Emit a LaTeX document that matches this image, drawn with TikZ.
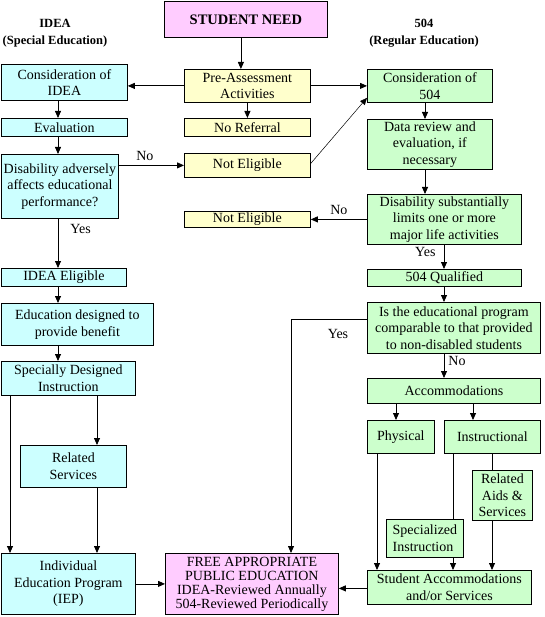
\documentclass[tikz,border=0pt]{standalone}
\usepackage{fontspec}
\setmainfont{Liberation Serif}
\usepackage{tikz}
\usetikzlibrary{shapes,arrows.meta,positioning,calc}

\definecolor{needpink}{HTML}{FFCCFF}
\definecolor{ideacyan}{HTML}{CCFFFF}
\definecolor{preyellow}{HTML}{FFFFCC}
\definecolor{reggreen}{HTML}{CCFFCC}
\newcommand{\boxfont}{\fontsize{14}{16.5}\selectfont}

\begin{document}
\begin{tikzpicture}[x=1pt, y=-1pt,
    box/.style={draw, line width=0.8pt, anchor=north west, inner sep=0.5pt, align=center, font=\boxfont},
    ideabox/.style={box, fill=ideacyan},
    prebox/.style={box, fill=preyellow},
    regbox/.style={box, fill=reggreen},
    arr/.style={line width=0.8pt, -{Triangle[length=7pt, width=6pt]}},
    lbl/.style={font=\boxfont, inner sep=0pt}]
    \useasboundingbox (0,0) rectangle (544,617);

    % top and headings
    \node[box, fill=needpink, minimum width=163, minimum height=36, font=\fontsize{14.5}{16}\selectfont\bfseries] (need) at (164,1) {STUDENT NEED};
    \node[align=center, font=\fontsize{12.5}{17}\selectfont\bfseries] (ideahead) at (55,33) {IDEA\\(Special Education)};
    \node[align=center, font=\fontsize{12.5}{17}\selectfont\bfseries] (reghead) at (424,33) {504\\(Regular Education)};

    % IDEA side
    \node[ideabox, minimum width=126, minimum height=36] (considea) at (1,64) {Consideration of\\IDEA};
    \node[ideabox, minimum width=126, minimum height=18] (eval) at (1,118) {Evaluation};
    \node[ideabox, minimum width=117, minimum height=64] (adverse) at (1,154) {Disability adversely\\affects educational\\performance?};
    \node[ideabox, minimum width=125, minimum height=18] (ideaelig) at (1,268) {IDEA Eligible};
    \node[ideabox, minimum width=152, minimum height=42] (benefit) at (1,303) {Education designed to\\provide benefit};
    \node[ideabox, minimum width=134, minimum height=34] (sdi) at (1,361) {Specially Designed\\Instruction};
    \node[ideabox, minimum width=106, minimum height=42] (relsrv) at (20,445) {Related\\Services};
    \node[ideabox, minimum width=134, minimum height=61] (iep) at (1,553) {Individual\\Education Program\\(IEP)};

    % middle
    \node[prebox, minimum width=126, minimum height=33] (pre) at (184,69) {Pre-Assessment\\Activities};
    \node[prebox, minimum width=126, minimum height=18] (noref) at (184,118) {No Referral};
    \node[prebox, minimum width=126, minimum height=24] (notelone) at (184,153) {Not Eligible};
    \node[prebox, minimum width=126, minimum height=16] (noteltwo) at (184,211) {Not Eligible};
    \node[box, fill=needpink, minimum width=173, minimum height=61, font=\fontsize{14}{14}\selectfont] (fape) at (165,553) {FREE APPROPRIATE\\PUBLIC EDUCATION\\IDEA-Reviewed Annually\\504-Reviewed Periodically};

    % 504 side
    \node[regbox, minimum width=125, minimum height=33] (cons504) at (367,69) {Consideration of\\504};
    \node[regbox, minimum width=125, minimum height=50] (datarev) at (367,119) {Data review and\\evaluation, if\\necessary};
    \node[regbox, minimum width=154, minimum height=50] (limits) at (367,194) {Disability substantially\\limits one or more\\major life activities};
    \node[regbox, minimum width=154, minimum height=17] (qual) at (367,269) {504 Qualified};
    \node[regbox, minimum width=173, minimum height=51] (compar) at (367,302) {Is the educational program\\comparable to that provided\\to non-disabled students};
    \node[regbox, minimum width=173, minimum height=25] (accom) at (367,378) {Accommodations};
    \node[regbox, minimum width=67, minimum height=33] (phys) at (367,420) {Physical};
    \node[regbox, minimum width=96, minimum height=33] (instr) at (444,420) {Instructional};
    \node[regbox, minimum width=60, minimum height=50] (relaids) at (472,470) {Related\\Aids \&\\Services};
    \node[regbox, minimum width=77, minimum height=38, align=left] (specinst) at (386,519) {Specialized\\Instruction};
    \node[regbox, minimum width=164, minimum height=34] (stuacc) at (367,570) {Student Accommodations\\and/or Services};

    % connectors
    \draw[arr] ([xshift=-5pt]need.south) -- ([xshift=-5pt]need.south |- pre.north);
    \draw[arr] (pre.west) -- (pre.west -| considea.east);
    \draw[arr] (pre.east) -- (cons504.west);
    \draw[arr] (pre.south) -- (noref.north);

    \draw[arr] ([xshift=57pt]considea.south west) -- ([xshift=57pt]eval.north west);
    \draw[arr] ([xshift=57pt]eval.south west) -- ([xshift=57pt]adverse.north west);
    \draw[arr] (notelone.west -| adverse.east) -- (notelone.west) node[lbl, pos=0.4, above=4pt] {No};
    \draw[arr] ([xshift=57pt]adverse.south west) -- ([xshift=57pt]ideaelig.north west) node[lbl, pos=0.2, right=12pt] {Yes};
    \draw[arr] ([xshift=57pt]ideaelig.south west) -- ([xshift=57pt]benefit.north west);
    \draw[arr] ([xshift=57pt]benefit.south west) -- ([xshift=57pt]sdi.north west);
    \draw[arr] ([xshift=9pt]sdi.south west) -- ([xshift=9pt]iep.north west);
    \draw[arr] ([xshift=96pt]sdi.south west) -- ([xshift=96pt]sdi.south west |- relsrv.north);
    \draw[arr] ([xshift=96pt]sdi.south west |- relsrv.south) -- ([xshift=96pt]iep.north west);
    \draw[arr] (iep.east |- fape.west) -- (fape.west);

    \draw[line width=0.5pt, -{Triangle[length=7pt, width=6pt]}] ([yshift=2pt]notelone.east) -- ([yshift=5pt]cons504.south west);
    \draw[arr] ([xshift=58pt]cons504.south west) -- ([xshift=58pt]datarev.north west);
    \draw[arr] ([xshift=58pt]datarev.south west) -- ([xshift=58pt]limits.north west);
    \draw[arr] (limits.west) -- (limits.west -| noteltwo.east) node[lbl, pos=0.5, above=4pt] {No};
    \draw[arr] ([xshift=77pt]limits.south west) -- ([xshift=77pt]qual.north west) node[lbl, pos=0.3, left=8pt] {Yes};
    \draw[arr] ([xshift=77pt]qual.south west) -- ([xshift=77pt]compar.north west);
    \draw[arr] ([yshift=9pt]compar.west) -| ([xshift=126pt]fape.north west);
    \node[lbl] (yeslbl) at (338,334) {Yes};
    \draw[arr] ([xshift=77pt]compar.south west) -- ([xshift=77pt]accom.north west) node[lbl, pos=0.3, right=4pt] {No};
    \draw[arr] ([xshift=29pt]phys.north west |- accom.south) -- ([xshift=29pt]phys.north west);
    \draw[arr] ([xshift=29pt]instr.north west |- accom.south) -- ([xshift=29pt]instr.north west);
    \draw[arr] ([xshift=10pt]phys.south west) -- ([xshift=10pt]phys.south west |- stuacc.north);
    \draw[line width=0.8pt] ([xshift=9pt]instr.south west) -- ([xshift=9pt]instr.south west |- specinst.north);
    \draw[arr] ([xshift=9pt]instr.south west |- specinst.south) -- ([xshift=9pt]instr.south west |- stuacc.north);
    \draw[line width=0.8pt] ([xshift=48pt]instr.south west) -- ([xshift=48pt]instr.south west |- relaids.north);
    \draw[arr] ([xshift=48pt]instr.south west |- relaids.south) -- ([xshift=48pt]instr.south west |- stuacc.north);
    \draw[arr] ([yshift=-1pt]stuacc.west) -- ([yshift=-1pt]stuacc.west -| fape.east);
\end{tikzpicture}
\end{document}
